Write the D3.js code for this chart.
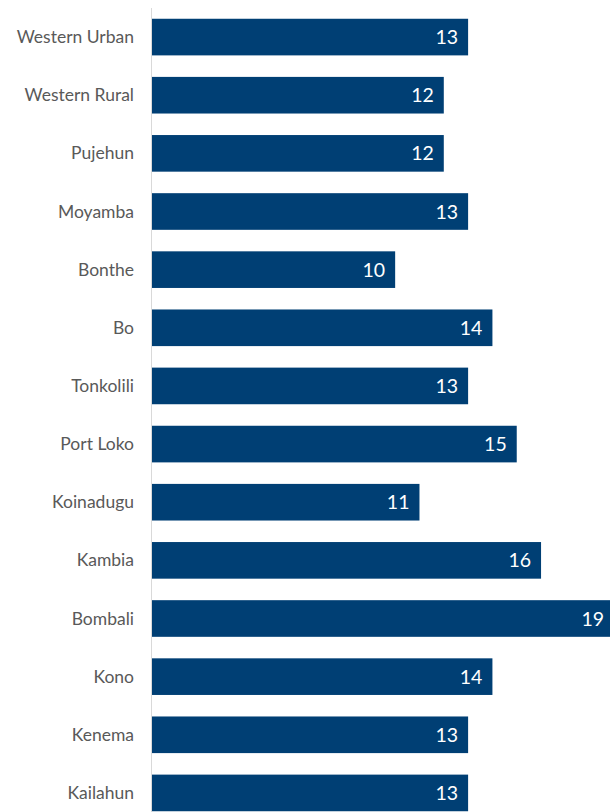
<!DOCTYPE html>
<html>
<head>
<meta charset="utf-8">
<script src="https://cdn.jsdelivr.net/npm/d3@7"></script>
<style>
  body { margin: 0; background: #fff; }
  svg { display: block; }
</style>
</head>
<body>
<svg id="chart" width="610" height="812"></svg>
<script>
let districts = ["Western Urban", "Western Rural", "Pujehun", "Moyamba", "Bonthe", "Bo", "Tonkolili",
	"Port Loko", "Koinadugu", "Kambia", "Bombali", "Kono", "Kenema", "Kailahun"]
let values = [13, 12, 12, 13, 10, 14, 13, 15, 11, 16, 19, 14, 13, 13]

let svg = d3.select("#chart")
let font = "Lato, 'Open Sans', sans-serif"

let x = d3.scaleLinear().domain([0, 19]).range([152, 614])
let y = d3.scaleBand().domain(districts).range([8, 822]).paddingInner(0.37).paddingOuter(0.185)

// bars
svg.selectAll(".bar").data(districts).enter()
	.append("rect").attr("class", "bar")
	.attr("x", x(0))
	.attr("y", d => y(d))
	.attr("width", (d, i) => x(values[i]) - x(0))
	.attr("height", y.bandwidth())
	.attr("fill", "#003f74")

// axis line
svg.append("line")
	.attr("x1", x(0) - 0.5).attr("x2", x(0) - 0.5)
	.attr("y1", 8).attr("y2", 812)
	.attr("stroke", "#d9d9d9").attr("stroke-width", 1)

// category labels
svg.selectAll(".cat").data(districts).enter()
	.append("text").attr("class", "cat")
	.attr("x", 134)
	.attr("y", d => y(d) + y.bandwidth() / 2)
	.attr("dy", "0.35em")
	.attr("text-anchor", "end")
	.attr("font-family", font)
	.attr("font-size", 17.5)
	.attr("fill", "#595959")
	.text(d => d)

// value labels
svg.selectAll(".val").data(districts).enter()
	.append("text").attr("class", "val")
	.attr("x", (d, i) => x(values[i]) - 10)
	.attr("y", d => y(d) + y.bandwidth() / 2)
	.attr("dy", "0.36em")
	.attr("text-anchor", "end")
	.attr("font-family", font)
	.attr("font-size", 19.5)
	.attr("fill", "#fff")
	.text((d, i) => values[i])
</script>
</body>
</html>
